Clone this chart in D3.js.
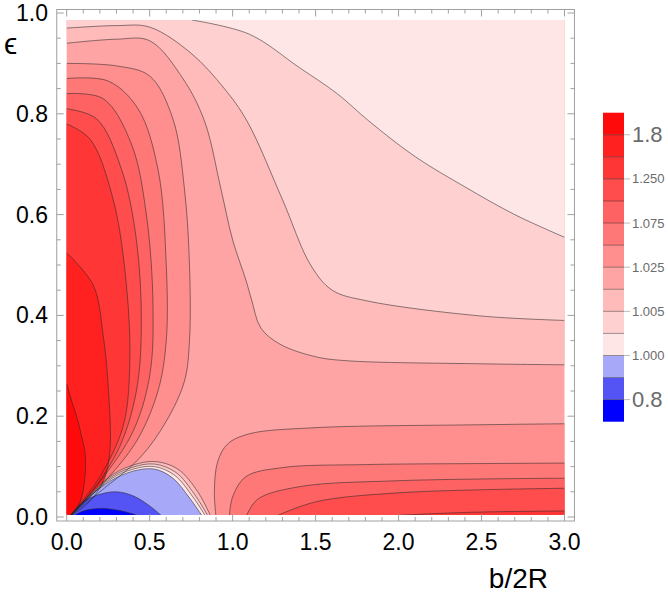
<!DOCTYPE html>
<html>
<head>
<meta charset="utf-8">
<script src="https://cdn.jsdelivr.net/npm/d3@7/dist/d3.min.js"></script>
<style>
  body { margin: 0; background: #fff; }
  svg { display: block; }
</style>
</head>
<body>
<svg id="chart" width="668" height="596"></svg>
<script>
// contour levels, low -> high (legend order bottom -> top)
const levels = [0.8, 0.9, 1.000, 1.0025, 1.005, 1.01, 1.025, 1.05, 1.075, 1.15, 1.25, 1.5, 1.8]
const legendLabels = { 0.8: "0.8", 1.000: "1.000", 1.005: "1.005", 1.025: "1.025", 1.075: "1.075", 1.25: "1.250", 1.8: "1.8" }
const xTicks = [0, 0.5, 1, 1.5, 2, 2.5, 3]
const yTicks = [0, 0.2, 0.4, 0.6, 0.8, 1]

// contour lines, [b/2R, eps]
// left lobe: from the left edge down to the origin
const leftLobe = {
  1.025: [[0, 0.9], [0.3, 0.895], [0.5, 0.875], [0.64, 0.79], [0.71, 0.65], [0.74, 0.5], [0.74, 0.35], [0.71, 0.27], [0.6, 0.19], [0.44, 0.117], [0.2, 0.05], [0.015, 0]],
  1.05: [[0, 0.87], [0.25, 0.865], [0.43, 0.81], [0.55, 0.69], [0.6, 0.5], [0.6, 0.35], [0.55, 0.25], [0.42, 0.15], [0.2, 0.06], [0.015, 0]],
  1.075: [[0, 0.84], [0.22, 0.83], [0.39, 0.74], [0.48, 0.6], [0.52, 0.42], [0.5, 0.28], [0.4, 0.17], [0.2, 0.07], [0.015, 0]],
  1.15: [[0, 0.81], [0.18, 0.79], [0.33, 0.69], [0.42, 0.55], [0.45, 0.38], [0.42, 0.25], [0.32, 0.14], [0.15, 0.05], [0.015, 0]],
  1.25: [[0, 0.78], [0.14, 0.75], [0.28, 0.63], [0.36, 0.46], [0.38, 0.3], [0.34, 0.18], [0.2, 0.08], [0.015, 0]],
  1.5: [[0, 0.524], [0.16, 0.46], [0.22, 0.36], [0.25, 0.26], [0.26, 0.13], [0.22, 0.07], [0.12, 0.025], [0.015, 0]],
  1.8: [[0, 0.264], [0.03, 0.23], [0.06, 0.2], [0.09, 0.16], [0.11, 0.13], [0.11, 0.08], [0.08, 0.03], [0.015, 0]]
}
// bottom-right lobe: from the bottom edge to the right edge
const rightLobe = {
  1.025: [[0.9, 0], [0.89, 0.05], [0.91, 0.11], [0.97, 0.145], [1.1, 0.165], [1.485, 0.177], [2.49, 0.183], [3, 0.185]],
  1.05: [[0.98, 0], [1.0, 0.04], [1.08, 0.08], [1.3, 0.098], [1.8, 0.104], [2.49, 0.106], [3, 0.107]],
  1.075: [[1.08, 0], [1.15, 0.035], [1.4, 0.06], [2.0, 0.072], [3, 0.077]],
  1.15: [[1.25, 0], [1.5, 0.03], [2.0, 0.048], [3, 0.057]],
  1.25: [[1.8, 0], [2.4, 0.009], [3, 0.012]]
}
// top-right low region: from the left/top edge to the right edge
const topRegion = {
  1.01: [[0, 0.94], [0.3, 0.948], [0.5, 0.945], [0.7, 0.87], [0.83, 0.786], [0.93, 0.65], [1.0, 0.55], [1.08, 0.47], [1.115, 0.43], [1.17, 0.375], [1.285, 0.343], [1.5, 0.318], [1.69, 0.31], [2.49, 0.304], [3, 0.302]],
  1.005: [[0, 0.97], [0.3, 0.975], [0.5, 0.972], [0.75, 0.92], [0.95, 0.85], [1.086, 0.786], [1.3, 0.63], [1.47, 0.5], [1.6, 0.45], [1.807, 0.429], [2.49, 0.399], [3, 0.39]],
  1.0025: [[0.755, 0.986], [1.1, 0.958], [1.405, 0.891], [1.63, 0.84], [1.82, 0.786], [2.1, 0.715], [2.4, 0.655], [2.7, 0.6], [3, 0.555]]
}
// bump at the bottom: from the origin back to the bottom edge
const bump = {
  1.01: [[0.015, 0], [0.26, 0.08], [0.4, 0.103], [0.53, 0.11], [0.67, 0.095], [0.79, 0.05], [0.87, 0]],
  1.005: [[0.015, 0], [0.26, 0.077], [0.4, 0.099], [0.53, 0.105], [0.66, 0.088], [0.77, 0.045], [0.855, 0]],
  1.0025: [[0.015, 0], [0.26, 0.074], [0.4, 0.095], [0.53, 0.1], [0.65, 0.083], [0.76, 0.04], [0.84, 0]],
  1.000: [[0.015, 0], [0.1, 0.03], [0.26, 0.071], [0.4, 0.091], [0.53, 0.095], [0.64, 0.077], [0.74, 0.038], [0.82, 0]],
  0.9: [[0.02, 0], [0.1, 0.03], [0.2, 0.045], [0.3, 0.05], [0.4, 0.042], [0.5, 0.022], [0.58, 0]],
  0.8: [[0.03, 0], [0.1, 0.012], [0.2, 0.017], [0.3, 0.014], [0.4, 0.006], [0.45, 0]]
}

// one colour per band, band i lies between levels[i-1] and levels[i]
const bandColors = ["#0000ff", "#5454f4", "#a7a9f8", "#ffe6e6", "#ffd0d0", "#ffbaba", "#ffa4a4",
  "#ff8e8e", "#ff7878", "#ff6262", "#ff4c4c", "#ff3636", "#ff2020", "#ff0a0a"]

const svg = d3.select("#chart")
const x = d3.scaleLinear().domain([0, 3]).range([66.7, 564.5])
const y = d3.scaleLinear().domain([0, 1]).range([517, 13])
const yMin = 0.004, yMax = 0.986

const line = d3.line().x(d => x(d[0])).y(d => y(d[1])).curve(d3.curveCatmullRom.alpha(0.5))
const pt = (a, b) => "L" + x(a) + "," + y(b)

svg.append("clipPath").attr("id", "plotClip")
  .append("rect")
  .attr("x", x(0)).attr("y", y(yMax))
  .attr("width", x(3) - x(0)).attr("height", y(yMin) - y(yMax))

const plot = svg.append("g").attr("clip-path", "url(#plotClip)")
const bandAbove = c => bandColors[levels.indexOf(c) + 1]
const bandBelow = c => bandColors[levels.indexOf(c)]

// saddle band underneath everything
plot.append("rect")
  .attr("x", x(0) - 5).attr("y", y(1.05))
  .attr("width", x(3) - x(0) + 10).attr("height", y(-0.05) - y(1.05))
  .attr("fill", bandAbove(1.01))

const regions = []
Object.keys(leftLobe).map(Number).sort((a, b) => a - b).forEach(c => {
  let p = leftLobe[c]
  regions.push({ d: line(p) + pt(-0.1, -0.1) + pt(-0.1, p[0][1]) + "Z", fill: bandAbove(c) })
})
Object.keys(rightLobe).map(Number).sort((a, b) => a - b).forEach(c => {
  let p = rightLobe[c], e = p[p.length - 1]
  regions.push({ d: line(p) + pt(3.1, e[1]) + pt(3.1, -0.1) + pt(p[0][0], -0.1) + "Z", fill: bandAbove(c) })
})
Object.keys(topRegion).map(Number).sort((a, b) => b - a).forEach(c => {
  let p = topRegion[c], e = p[p.length - 1]
  let start = p[0][0] === 0 ? pt(-0.1, 1.1) + pt(-0.1, p[0][1]) : pt(-0.1, 1.1) + pt(p[0][0], 1.1)
  regions.push({ d: line(p) + pt(3.1, e[1]) + pt(3.1, 1.1) + start + "Z", fill: bandBelow(c) })
})
Object.keys(bump).map(Number).sort((a, b) => b - a).forEach(c => {
  let p = bump[c], e = p[p.length - 1]
  regions.push({ d: line(p) + pt(e[0], -0.1) + pt(p[0][0], -0.1) + "Z", fill: bandBelow(c) })
})

plot.selectAll("path.band")
  .data(regions)
  .enter()
  .append("path")
  .attr("class", "band")
  .attr("d", d => d.d)
  .attr("fill", d => d.fill)

const allLines = [leftLobe, rightLobe, topRegion, bump].flatMap(o => Object.values(o))
plot.selectAll("path.contour")
  .data(allLines)
  .enter()
  .append("path")
  .attr("class", "contour")
  .attr("d", line)
  .attr("fill", "none")
  .attr("stroke", "rgba(40,40,40,0.55)")
  .attr("stroke-width", 1)

// frame
const fx0 = x(-0.06), fx1 = x(3.06), fy0 = 9.5, fy1 = 521
const frame = svg.append("g").attr("stroke", "#a0a0a0").attr("stroke-width", 1).attr("fill", "none")
frame.append("rect").attr("x", fx0).attr("y", fy0).attr("width", fx1 - fx0).attr("height", fy1 - fy0)

d3.range(0, 3.001, 0.1).forEach((v, i) => {
  let len = i % 5 === 0 ? 7 : 4
  frame.append("line").attr("x1", x(v)).attr("x2", x(v)).attr("y1", fy1).attr("y2", fy1 - len)
  frame.append("line").attr("x1", x(v)).attr("x2", x(v)).attr("y1", fy0).attr("y2", fy0 + len)
})
d3.range(0, 1.001, 0.05).forEach((v, i) => {
  let len = i % 4 === 0 ? 7 : 4
  frame.append("line").attr("y1", y(v)).attr("y2", y(v)).attr("x1", fx0).attr("x2", fx0 + len)
  frame.append("line").attr("y1", y(v)).attr("y2", y(v)).attr("x1", fx1).attr("x2", fx1 - len)
})

const labelFont = "'Liberation Sans', Arial, sans-serif"
svg.selectAll("text.xtick").data(xTicks).enter().append("text")
  .attr("x", d => x(d)).attr("y", 550)
  .attr("text-anchor", "middle")
  .style("font-family", labelFont).style("font-size", "23px")
  .text(d => d.toFixed(1))
svg.selectAll("text.ytick").data(yTicks).enter().append("text")
  .attr("x", 48).attr("y", d => y(d) + 8)
  .attr("text-anchor", "end")
  .style("font-family", labelFont).style("font-size", "23px")
  .text(d => d.toFixed(1))

svg.append("text").attr("x", 4).attr("y", 54)
  .style("font-family", labelFont).style("font-size", "30px")
  .text("ϵ")
svg.append("text").attr("x", 548).attr("y", 588).attr("text-anchor", "end")
  .style("font-family", labelFont).style("font-size", "28px")
  .text("b/2R")

// legend
const legend = svg.append("g")
const ly = d3.scaleLinear().domain([0, bandColors.length]).range([421.7, 112.7])
legend.selectAll("rect").data(bandColors).enter().append("rect")
  .attr("x", 603).attr("width", 21)
  .attr("y", (d, i) => ly(i + 1)).attr("height", (d, i) => ly(i) - ly(i + 1))
  .attr("fill", d => d)
legend.selectAll("line.sep").data(levels).enter().append("line")
  .attr("x1", 603).attr("x2", 624)
  .attr("y1", (d, i) => ly(i + 1)).attr("y2", (d, i) => ly(i + 1))
  .attr("stroke", "rgba(40,40,40,0.45)")
const labelled = levels.map((c, i) => ({ c, i })).filter(d => legendLabels[d.c])
legend.selectAll("line.tick").data(labelled).enter().append("line")
  .attr("x1", 624).attr("x2", 630)
  .attr("y1", d => ly(d.i + 1)).attr("y2", d => ly(d.i + 1))
  .attr("stroke", "#bbb")
legend.selectAll("text").data(labelled).enter().append("text")
  .attr("x", 632)
  .attr("y", d => ly(d.i + 1))
  .attr("dy", "0.35em")
  .attr("fill", "#6b6b6b")
  .style("font-family", labelFont)
  .style("font-size", d => (d.c === 0.8 || d.c === 1.8) ? "22px" : "13px")
  .text(d => legendLabels[d.c])
</script>
</body>
</html>
